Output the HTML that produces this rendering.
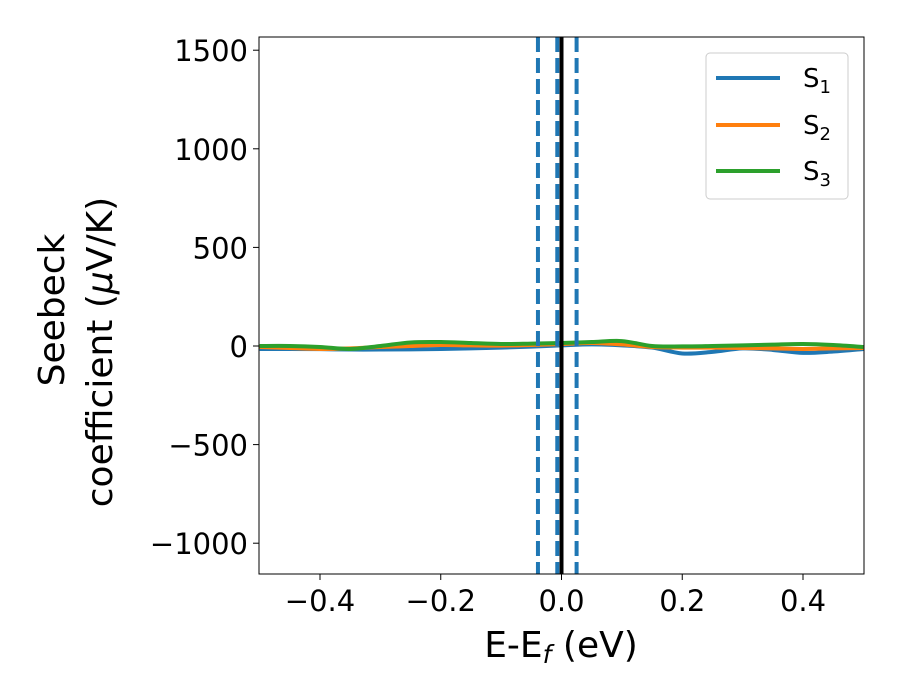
<!DOCTYPE html>
<html><head><meta charset="utf-8"><style>body{margin:0;background:#fff}svg{display:block;font-family:"DejaVu Sans","Liberation Sans",sans-serif}</style></head>
<body>
<svg id="chart" width="900" height="700" viewBox="0 0 900 700">
<g id="grid"></g>
<g id="series"></g>
<rect x="259" y="37" width="605" height="537" fill="none" stroke="#000" stroke-width="1"/>
<g id="ticks" font-size="29"></g>
<text x="561" y="657" font-size="36" text-anchor="middle">E-E<tspan font-style="italic" font-size="25" dy="6">f</tspan><tspan dy="-6"> (eV)</tspan></text>
<g transform="translate(64,310) rotate(-90)">
<text x="0" y="0" font-size="36" text-anchor="middle">Seebeck</text>
</g>
<g transform="translate(112,352) rotate(-90)">
<text x="0" y="0" font-size="36" text-anchor="middle">coefficient  (<tspan font-style="italic">μ</tspan>V/K)</text>
</g>
<g>
<rect x="706" y="53" width="142" height="146" rx="4" fill="#fff" fill-opacity="0.8" stroke="#ccc"/>
<line x1="716" y1="78" x2="780" y2="78" stroke="#1f77b4" stroke-width="4"/>
<text x="803" y="87" font-size="26">S<tspan font-size="18" dy="6">1</tspan></text>
<line x1="716" y1="125" x2="780" y2="125" stroke="#ff7f0e" stroke-width="4"/>
<text x="803" y="134" font-size="26">S<tspan font-size="18" dy="6">2</tspan></text>
<line x1="716" y1="171" x2="780" y2="171" stroke="#2ca02c" stroke-width="4"/>
<text x="803" y="180" font-size="26">S<tspan font-size="18" dy="6">3</tspan></text>
</g>
</svg>
<script>
const energies=[-0.5,-0.45,-0.4,-0.35,-0.3,-0.25,-0.2,-0.15,-0.1,-0.05,0,0.05,0.1,0.15,0.2,0.25,0.3,0.35,0.4,0.45,0.5];
const s1=[-15,-15,-16,-18,-18,-17,-15,-12,-8,-3,3,8,3,-8,-38,-30,-12,-20,-35,-28,-15];
const s2=[-5,-10,-15,-12,-5,0,5,3,2,5,10,15,8,-5,-8,-8,-10,-12,-15,-12,-10];
const s3=[0,0,-5,-15,0,18,20,15,10,12,15,20,25,0,-2,0,3,7,10,5,-5];
const xTicks=[-0.4,-0.2,0.0,0.2,0.4];
const xTickLabels=["−0.4","−0.2","0.0","0.2","0.4"];
const yTicks=[-1000,-500,0,500,1000,1500];
const yTickLabels=["−1000","−500","0","500","1000","1500"];
const dashedLines=[-0.039,-0.007,0.025];
const fermiLine=[0];
const X=v=>561.5+v*603.75;
const Y=v=>346-v*0.1972;
const NS="http://www.w3.org/2000/svg";
const mk=(t,a,p)=>{const e=document.createElementNS(NS,t);for(const k in a)e.setAttribute(k,a[k]);p.appendChild(e);return e;};
const ticks=document.getElementById('ticks');
xTicks.forEach((v,i)=>{
 const l=mk('line',{x1:X(v),x2:X(v),y1:574,y2:580,stroke:'#000'},ticks);
 
 
 const t=mk('text',{x:X(v),y:611,'text-anchor':'middle'},ticks);t.textContent=xTickLabels[i];
 
 
});
yTicks.forEach((v,i)=>{
 const l=mk('line',{x1:253,x2:259,y1:Y(v),y2:Y(v),stroke:'#000'},ticks);
 
 
 const t=mk('text',{x:248,y:Y(v)+11,'text-anchor':'end'},ticks);t.textContent=yTickLabels[i];
 
 
});
const ser=document.getElementById('series');
function smooth(xs,ys){
 const p=xs.map((x,i)=>[X(x),Y(ys[i])]);let d=`M${p[0][0]},${p[0][1]}`;
 for(let i=0;i<p.length-1;i++){const p0=p[Math.max(0,i-1)],p1=p[i],p2=p[i+1],p3=p[Math.min(p.length-1,i+2)];
  d+=` C${p1[0]+(p2[0]-p0[0])/6},${p1[1]+(p2[1]-p0[1])/6} ${p2[0]-(p3[0]-p1[0])/6},${p2[1]-(p3[1]-p1[1])/6} ${p2[0]},${p2[1]}`;}
 return d;}
[[s1,'#1f77b4','series-s1'],[s2,'#ff7f0e','series-s2'],[s3,'#2ca02c','series-s3']].forEach(([s,c,n])=>{
 const e=mk('path',{d:smooth(energies,s),fill:'none',stroke:c,'stroke-width':4},ser);
 
 
});
dashedLines.forEach(v=>{
 const e=mk('line',{x1:X(v),x2:X(v),y1:37,y2:574,stroke:'#1f77b4','stroke-width':4,'stroke-dasharray':'15,6'},ser);
 
 
});
fermiLine.forEach(v=>{
 const e=mk('line',{x1:X(v),x2:X(v),y1:37,y2:574,stroke:'#000','stroke-width':4},ser);
 
 
});
</script>
</body></html>
